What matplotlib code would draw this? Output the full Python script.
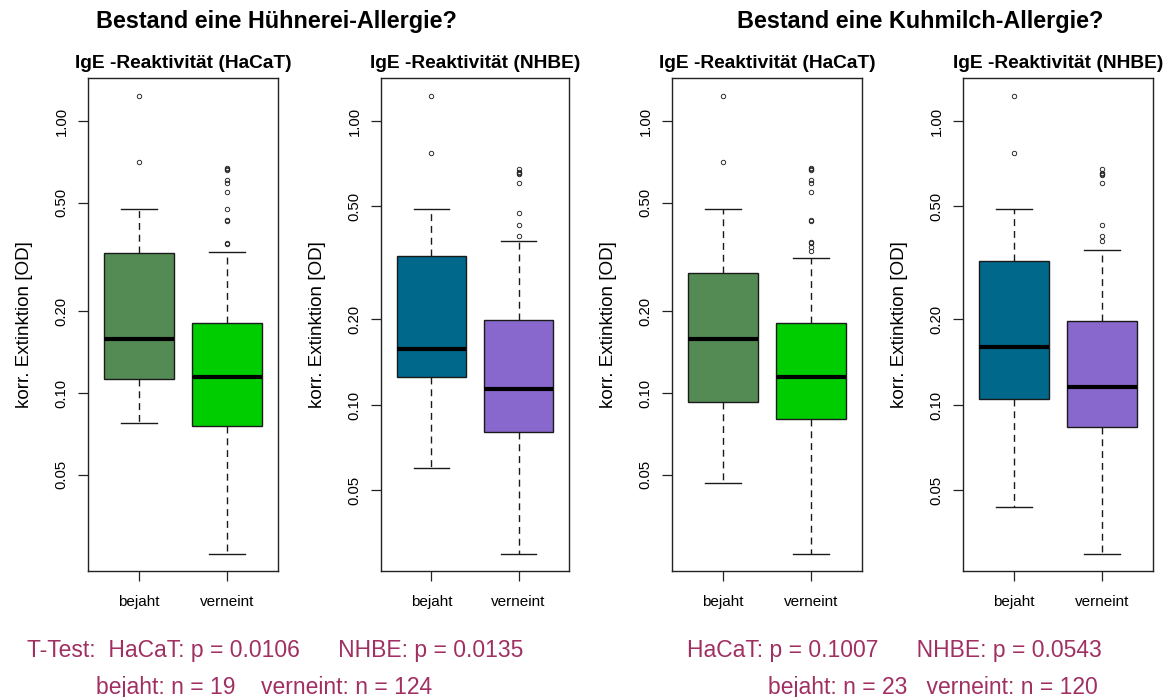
import matplotlib
matplotlib.use('Agg')
import matplotlib.pyplot as plt
from matplotlib.ticker import NullLocator

plt.rcParams['font.family'] = ['Liberation Sans', 'DejaVu Sans']

groups = ['bejaht', 'verneint']
yticks = [0.05, 0.10, 0.20, 0.50, 1.00]
ytick_labels = ['0.05', '0.10', '0.20', '0.50', '1.00']

# per group: [whisker low, Q1, median, Q3, whisker high]
egg_hacat_box = [[0.0776, 0.1125, 0.158, 0.327, 0.475],
                 [0.0256, 0.0756, 0.1145, 0.181, 0.330]]
egg_hacat_out = [[1.236, 0.707],
                 [0.667, 0.662, 0.672, 0.607, 0.592, 0.548, 0.475,
                  0.433, 0.430, 0.353, 0.356]]

egg_nhbe_box = [[0.060, 0.1255, 0.157, 0.335, 0.490],
                [0.0299, 0.0803, 0.1138, 0.199, 0.378]]
egg_nhbe_out = [[1.224, 0.771],
                [0.678, 0.656, 0.660, 0.650, 0.605, 0.474, 0.430, 0.394]]

milk_hacat_box = [[0.0467, 0.0927, 0.158, 0.276, 0.475],
                  [0.0256, 0.0802, 0.1145, 0.181, 0.313]]
milk_hacat_out = [[1.236, 0.707],
                  [0.667, 0.662, 0.672, 0.607, 0.592, 0.548, 0.429, 0.433,
                   0.356, 0.360, 0.344, 0.333]]

milk_nhbe_box = [[0.0438, 0.105, 0.160, 0.321, 0.490],
                 [0.0299, 0.0837, 0.1157, 0.198, 0.351]]
milk_nhbe_out = [[1.224, 0.771],
                 [0.678, 0.651, 0.655, 0.645, 0.605, 0.430, 0.394, 0.378]]

hacat_colors = ['#548B54', '#00CD00']
nhbe_colors = ['#00688B', '#8968CD']

W, H = 1168, 697
fig = plt.figure(figsize=(W / 100, H / 100), dpi=100)

panels = [
    (88, 190, egg_hacat_box, egg_hacat_out, hacat_colors, 'IgE -Reaktivität (HaCaT)', (0.02217, 1.439)),
    (381, 188, egg_nhbe_box, egg_nhbe_out, nhbe_colors, 'IgE -Reaktivität (NHBE)', (0.02603, 1.417)),
    (672, 190, milk_hacat_box, milk_hacat_out, hacat_colors, 'IgE -Reaktivität (HaCaT)', (0.02217, 1.439)),
    (963, 190, milk_nhbe_box, milk_nhbe_out, nhbe_colors, 'IgE -Reaktivität (NHBE)', (0.02603, 1.417)),
]
top, bottom = 78, 571

for left, width, box, out, colors, title, ylim in panels:
    ax = fig.add_axes([left / W, 1 - bottom / H, width / W, (bottom - top) / H])
    ax.set_yscale('log')
    stats = [dict(whislo=b[0], q1=b[1], med=b[2], q3=b[3], whishi=b[4], fliers=o)
             for b, o in zip(box, out)]
    res = ax.bxp(stats, positions=[1, 2], widths=0.8, capwidths=0.4,
                 patch_artist=True,
                 boxprops=dict(edgecolor='#1a1a1a', linewidth=1.0),
                 medianprops=dict(color='black', linewidth=3),
                 whiskerprops=dict(color='#1a1a1a', linewidth=1.0, linestyle=(0, (5, 3.5))),
                 capprops=dict(color='#1a1a1a', linewidth=1.0),
                 flierprops=dict(marker='o', markersize=3.2, markerfacecolor='none',
                                 markeredgecolor='#222222', markeredgewidth=0.65))
    for patch, c in zip(res['boxes'], colors):
        patch.set_facecolor(c)

    ax.set_xlim(0.42, 2.58)
    ax.set_ylim(*ylim)
    ax.set_xticks([1, 2])
    ax.set_xticklabels(groups, fontsize=11)
    ax.set_yticks(yticks)
    ax.yaxis.set_minor_locator(NullLocator())
    ax.set_yticklabels(ytick_labels, fontsize=10.7, rotation=90, va='center')
    ax.tick_params(axis='x', length=7, width=0.9, color='#222222', pad=10)
    ax.tick_params(axis='y', length=7, width=0.9, color='#222222', pad=7)
    for s in ax.spines.values():
        s.set_linewidth(1.0)
        s.set_color('#222222')
    ax.set_title(title, fontsize=13.8, fontweight='bold', pad=7)
    ax.set_ylabel('korr. Extinktion [OD]', fontsize=13.6)
    ax.yaxis.set_label_coords(-0.29, 0.5)

fig.text(276 / W, 1 - 28 / H, 'Bestand eine Hühnerei-Allergie?', ha='center',
         va='baseline', fontsize=16.8, fontweight='bold')
fig.text(920 / W, 1 - 28 / H, 'Bestand eine Kuhmilch-Allergie?', ha='center',
         va='baseline', fontsize=16.8, fontweight='bold')

note_color = '#A02F62'
fig.text(27 / W, 1 - 657 / H, 'T-Test:  HaCaT: p = 0.0106      NHBE: p = 0.0135',
         ha='left', va='baseline', fontsize=16.5, color=note_color)
fig.text(96 / W, 1 - 694 / H, 'bejaht: n = 19    verneint: n = 124',
         ha='left', va='baseline', fontsize=16.5, color=note_color)
fig.text(687 / W, 1 - 657 / H, 'HaCaT: p = 0.1007      NHBE: p = 0.0543',
         ha='left', va='baseline', fontsize=16.5, color=note_color)
fig.text(768 / W, 1 - 694 / H, 'bejaht: n = 23   verneint: n = 120',
         ha='left', va='baseline', fontsize=16.5, color=note_color)

fig.savefig('out.png', dpi=100)
